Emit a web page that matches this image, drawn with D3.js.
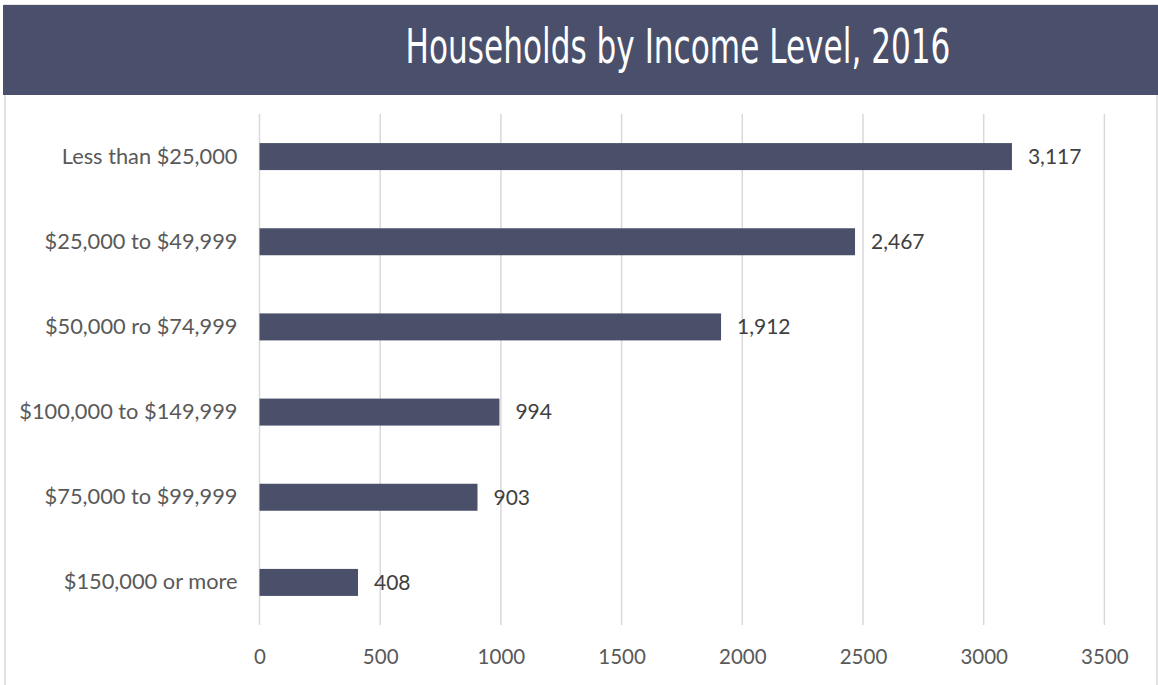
<!DOCTYPE html>
<html>
<head>
<meta charset="utf-8">
<script src="https://cdn.jsdelivr.net/npm/d3@7"></script>
<style>
  html, body { margin: 0; padding: 0; background: #fff; }
  svg { display: block; }
</style>
</head>
<body>
<div id="chart"></div>
<script>
// Household counts by income bracket, 2016
const categories = [
  "Less than $25,000",
  "$25,000 to $49,999",
  "$50,000 ro $74,999",
  "$100,000 to $149,999",
  "$75,000 to $99,999",
  "$150,000 or more"
];
const households = [3117, 2467, 1912, 994, 903, 408];
const xTicks = [0, 500, 1000, 1500, 2000, 2500, 3000, 3500];
const titleText = "Households by Income Level, 2016";

const W = 1158, H = 685;
const barColor = "#4a506a";
const headerColor = "#4a506b";

const svg = d3.select("#chart").append("svg")
  .attr("width", W).attr("height", H);

// frame
svg.append("rect")
  .attr("x", 5).attr("y", 5).attr("width", W - 6).attr("height", H + 10)
  .attr("fill", "#fff").attr("stroke", "#d9d9d9").attr("stroke-width", 1.5);

// header band
svg.append("rect")
  .attr("x", 3).attr("y", 5).attr("width", W - 3).attr("height", 90)
  .attr("fill", headerColor);

const x = d3.scaleLinear().domain([0, 3500]).range([259.5, 1104.4]);
const y = d3.scaleBand().domain(categories).range([114, 625])
  .paddingInner(0.683).paddingOuter(0.3415);

// title: condensed face, squeezed horizontally to a fixed width
const title = svg.append("text")
  .attr("text-anchor", "middle")
  .attr("fill", "#ffffff")
  .attr("font-family", "'Liberation Sans Narrow', 'DejaVu Sans Condensed', sans-serif")
  .attr("font-size", 48)
  .text(titleText);
const tw = title.node().getComputedTextLength();
title.attr("transform", `translate(678,63) scale(${545 / tw},1)`);

// vertical gridlines
svg.append("g")
  .selectAll("line").data(xTicks).join("line")
  .attr("x1", d => x(d)).attr("x2", d => x(d))
  .attr("y1", 114).attr("y2", 625)
  .attr("stroke", "#d9d9d9").attr("stroke-width", 1.5);

// x axis tick labels
const xAxis = d3.axisBottom(x).tickValues(xTicks).tickSize(0).tickPadding(0)
  .tickFormat(d3.format("d"));
const gx = svg.append("g").attr("transform", "translate(0,664)").call(xAxis);
gx.select(".domain").remove();
gx.selectAll("text")
  .attr("dy", 0)
  .attr("font-family", "Lato, 'Open Sans', sans-serif")
  .attr("font-size", 20.5)
  .attr("fill", "#595959");

// category labels
const yAxis = d3.axisLeft(y).tickSize(0).tickPadding(22);
const gy = svg.append("g").attr("transform", `translate(${x(0)},0)`).call(yAxis);
gy.select(".domain").remove();
gy.selectAll("text")
  .attr("font-family", "Lato, 'Open Sans', sans-serif")
  .attr("font-size", 21.8)
  .attr("fill", "#595959");

// bars
svg.append("g")
  .selectAll("rect").data(categories).join("rect")
  .attr("x", x(0))
  .attr("y", d => y(d))
  .attr("width", (d, i) => x(households[i]) - x(0))
  .attr("height", y.bandwidth())
  .attr("fill", barColor);

// value labels
svg.append("g")
  .selectAll("text").data(categories).join("text")
  .attr("x", (d, i) => x(households[i]) + 16)
  .attr("y", d => y(d) + y.bandwidth() / 2)
  .attr("dy", "0.35em")
  .attr("font-family", "Lato, 'Open Sans', sans-serif")
  .attr("font-size", 21)
  .attr("fill", "#404040")
  .text((d, i) => d3.format(",")(households[i]));
</script>
</body>
</html>
